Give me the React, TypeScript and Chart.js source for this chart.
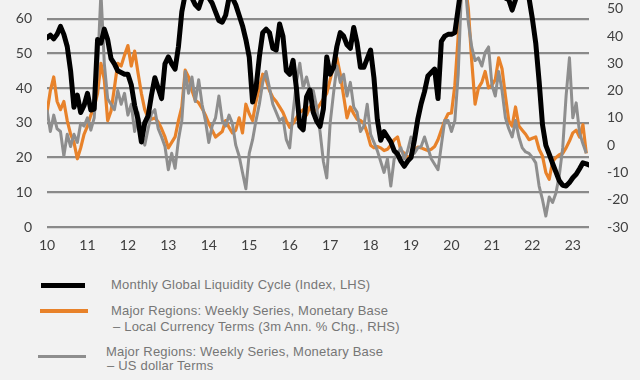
import React, { useEffect, useRef } from "react";
import { Chart, registerables } from "chart.js";

Chart.register(...registerables);

// Monthly observations starting January 2010
const START_YEAR = 2010;
const yearLabels = ["10", "11", "12", "13", "14", "15", "16", "17", "18", "19", "20", "21", "22", "23"];

// Monthly Global Liquidity Cycle (Index, LHS)
const liquidityCycle = [
  54.5, 55.3, 54.2, 55.5, 57.8, 55.5, 52, 45, 34.5, 38, 33, 35,
  38.5, 33.7, 34, 54, 53, 57, 54, 48.5, 47, 45, 44.5, 44,
  44, 41, 35, 31, 24.5, 30, 32, 38, 43, 40, 37, 47,
  49, 47, 45.5, 52, 62, 67, 68, 66, 64, 63, 66, 67,
  66, 64.5, 62, 59.5, 59, 61, 66, 66, 64, 61, 58, 54,
  49, 36, 40, 49, 56, 57, 56, 51.5, 51, 58.5, 55, 45,
  44, 48, 40, 29, 28, 37.5, 39.5, 33, 30.5, 29, 34, 49,
  44, 46, 52, 56, 55, 52.5, 51.5, 57.5, 53, 46, 46, 48.5,
  51, 43, 31, 25, 27.5, 26, 24.5, 22, 21, 19, 17.5, 19,
  20, 25, 31, 35.5, 39, 43.5, 44.5, 45.5, 37, 53.5, 55, 55.5,
  55.5, 56, 63, 70, 74, 76, 77, 77, 76, 75, 74, 73,
  72, 71, 70, 68, 66, 65.5, 62.5, 65.5, 68, 69, 68, 66,
  60, 53, 42, 29.5, 23.5, 21, 18.3, 15.8, 13.3, 12, 11.8, 12.8,
  14.2, 15.2, 16.8, 18.5, 18.2, 17.8,
];

// Major Regions: Monetary Base, Local Currency Terms (3m Ann. % Chg., RHS)
const localCurrency = [
  12, 20, 25, 16, 13, 16, 9, 4, 1, -5, -1, 4,
  7, 11, 14, 19, 30, 24, 9, 12.5, 21, 30, 29, 33,
  36.5, 29, 34.5, 26.5, 19, 13, 10, 9.5, 10, 8.5, 6, 3,
  -1, 1, 3, 9, 14, 27.5, 25, 20, 16.5, 15.5, 13.5, 11,
  8, 5.5, 3, 4, 5, 9, 6.5, 4.5, 5.5, 10, 4.5, 15,
  11.5, 9, 16, 21, 26, 24, 20, 17.5, 16, 14, 12, 9,
  6.5, 8, 10, 12, 13, 11, 14, 12, 13, 15, 17, 19,
  24, 29, 32, 26, 18, 10, 14, 11.5, 9.5, 9, 8, 4.5,
  0, -1, -0.5, -1, -2, -1.5, 0, 2, 3, -2, -3, -4.5,
  -4, -2, -0.7, -1, -1.5, -2, -1.5, -0.5, 2, 5.5, 9, 11.5,
  11.8, 22, 40, 58, 60, 50, 31, 15, 21, 23, 27, 21,
  22, 24, 32, 28, 18, 9, 7, 14, 7, 5.5, 4, 2,
  2.5, 3, -1.5, -4, -10, -12.5, -6, -4.5, -3.5, -3, -1, 1.5,
  4.5, 5.5, 3, 7.5, -3,
];

// Major Regions: Monetary Base, US dollar Terms (RHS)
const usDollar = [
  13, 5, 11, 6, 5, -4, 4, -0.5, 4, 1, 8, 7,
  10, 5.5, 10, 28, 56, 30, 17, 15, 13, 20, 15, 19,
  11, 15, 5, 12, 4, 0, 6, 11.5, 13, 6, 3, -0.5,
  -9, -3, -8.5, 2, 9, 27, 19, 25, 16, 24, 15, 9,
  1, 7, 10, 18, 9, 7, 11, 8, 0, -4, -10, -16,
  -3, 2, 9, 15, 23, 27, 21, 15, 12, 9, 10, 2,
  -1, 12, 23, 30, 21, 25, 20, 20, 14, 5, -6, -12,
  8, 19, 29, 23, 26, 18, 23, 14, 12, 5, 7, 15,
  4, 1, -2, -6, -10, -5, -15, -5, -3, -1, -5, -2,
  3, -3, -1, -0.5, 3, -1, -5, -7, -9, 0, 9, 9,
  5, 9, 26, 58, 60, 45, 36, 31, 32, 29, 34, 36,
  22, 18, 27, 20, 10, 6, 3, 9, 3, -1, -2.5, -3,
  -4.5, -6.5, -15, -20, -26, -19, -21, -17.5, -11, -1, 18, 32,
  10, 15.5, 4.5, 0.5, -3,
];

const leftTicks = [0, 10, 20, 30, 40, 50, 60];
const rightTicks = [-30, -20, -10, 0, 10, 20, 30, 40, 50];

const toPoints = (arr: number[]) => arr.map((v, i) => ({ x: START_YEAR + i / 12, y: v }));

const BG = "#f2f2f2";
const ORANGE = "#e8822a";
const GRAY = "#8e8e8e";
const GRID = "#8a8a8a";
const TICK = "#404040";
const LEGEND_TEXT = "#767676";

export default function App() {
  const ref = useRef<HTMLCanvasElement | null>(null);

  useEffect(() => {
    if (!ref.current) return;
    const tickFont = { family: "Lato, 'Open Sans', sans-serif", size: 14 };
    const chart = new Chart(ref.current, {
      type: "line",
      data: {
        datasets: [
          {
            label: "Monthly Global Liquidity Cycle (Index, LHS)",
            data: toPoints(liquidityCycle),
            yAxisID: "yL",
            borderColor: "#000000",
            borderWidth: 5,
            pointRadius: 0,
            tension: 0,
            borderJoinStyle: "round",
            borderCapStyle: "round",
          },
          {
            label: "US dollar Terms",
            data: toPoints(usDollar),
            yAxisID: "yR",
            borderColor: GRAY,
            borderWidth: 3,
            pointRadius: 0,
            tension: 0,
            borderJoinStyle: "round",
          },
          {
            label: "Local Currency Terms",
            data: toPoints(localCurrency),
            yAxisID: "yR",
            borderColor: ORANGE,
            borderWidth: 3.2,
            pointRadius: 0,
            tension: 0,
            borderJoinStyle: "round",
          },
        ],
      },
      options: {
        animation: false,
        responsive: true,
        maintainAspectRatio: false,
        layout: { padding: 0 },
        plugins: { legend: { display: false }, tooltip: { enabled: false } },
        scales: {
          x: {
            type: "linear",
            min: 2010,
            max: 2023.4,
            grid: { display: false, drawTicks: false },
            border: { display: false },
            afterBuildTicks: (s: any) => {
              s.ticks = yearLabels.map((_, i) => ({ value: START_YEAR + i }));
            },
            afterFit: (s: any) => {
              s.height = 31;
            },
            ticks: {
              autoSkip: false,
              maxRotation: 0,
              padding: 10,
              color: TICK,
              font: tickFont,
              callback: (v: any) => yearLabels[Math.round(v) - START_YEAR] ?? "",
            },
          },
          yL: {
            type: "linear",
            position: "left",
            min: 0,
            max: 65.4,
            grid: { color: GRID, lineWidth: 2.2, drawTicks: false },
            border: { display: false },
            afterBuildTicks: (s: any) => {
              s.ticks = leftTicks.map((v) => ({ value: v }));
            },
            afterFit: (s: any) => {
              s.width = 47;
              s.paddingTop = 0;
              s.paddingBottom = 0;
            },
            ticks: { padding: 15, color: TICK, font: tickFont },
          },
          yR: {
            type: "linear",
            position: "right",
            min: -30,
            max: 53.2,
            grid: { display: false, drawTicks: false },
            border: { display: false },
            afterBuildTicks: (s: any) => {
              s.ticks = rightTicks.map((v) => ({ value: v }));
            },
            afterFit: (s: any) => {
              s.width = 51;
              s.paddingTop = 0;
              s.paddingBottom = 0;
            },
            ticks: { padding: 18, color: TICK, font: tickFont },
          },
        },
      },
    } as any);
    return () => chart.destroy();
  }, []);

  const legendText: React.CSSProperties = {
    position: "absolute",
    fontFamily: "'Liberation Sans', Arial, sans-serif",
    fontSize: 13,
    letterSpacing: "0.2px",
    lineHeight: "16px",
    color: LEGEND_TEXT,
    whiteSpace: "nowrap",
  };
  const swatch = (left: number, top: number, width: number, h: number, color: string): React.CSSProperties => ({
    position: "absolute",
    left,
    top,
    width,
    height: h,
    background: color,
  });

  return (
    <div style={{ position: "fixed", left: 0, top: 0, width: 640, height: 380, background: BG, overflow: "hidden" }}>
      <div style={{ position: "absolute", left: 0, top: 0, width: 640, height: 258 }}>
        <canvas ref={ref} />
      </div>
      <div style={swatch(41, 283, 44, 4.5, "#000000")} />
      <div style={{ ...legendText, left: 111, top: 277 }}>Monthly Global Liquidity Cycle (Index, LHS)</div>
      <div style={swatch(40, 308.5, 48, 4, ORANGE)} />
      <div style={{ ...legendText, left: 111, top: 303 }}>Major Regions: Weekly Series, Monetary Base</div>
      <div style={{ ...legendText, left: 113, top: 319 }}>– Local Currency Terms (3m Ann. % Chg., RHS)</div>
      <div style={swatch(38, 355, 48, 3.3, GRAY)} />
      <div style={{ ...legendText, left: 106, top: 344 }}>Major Regions: Weekly Series, Monetary Base</div>
      <div style={{ ...legendText, left: 107, top: 358 }}>– US dollar Terms</div>
    </div>
  );
}
